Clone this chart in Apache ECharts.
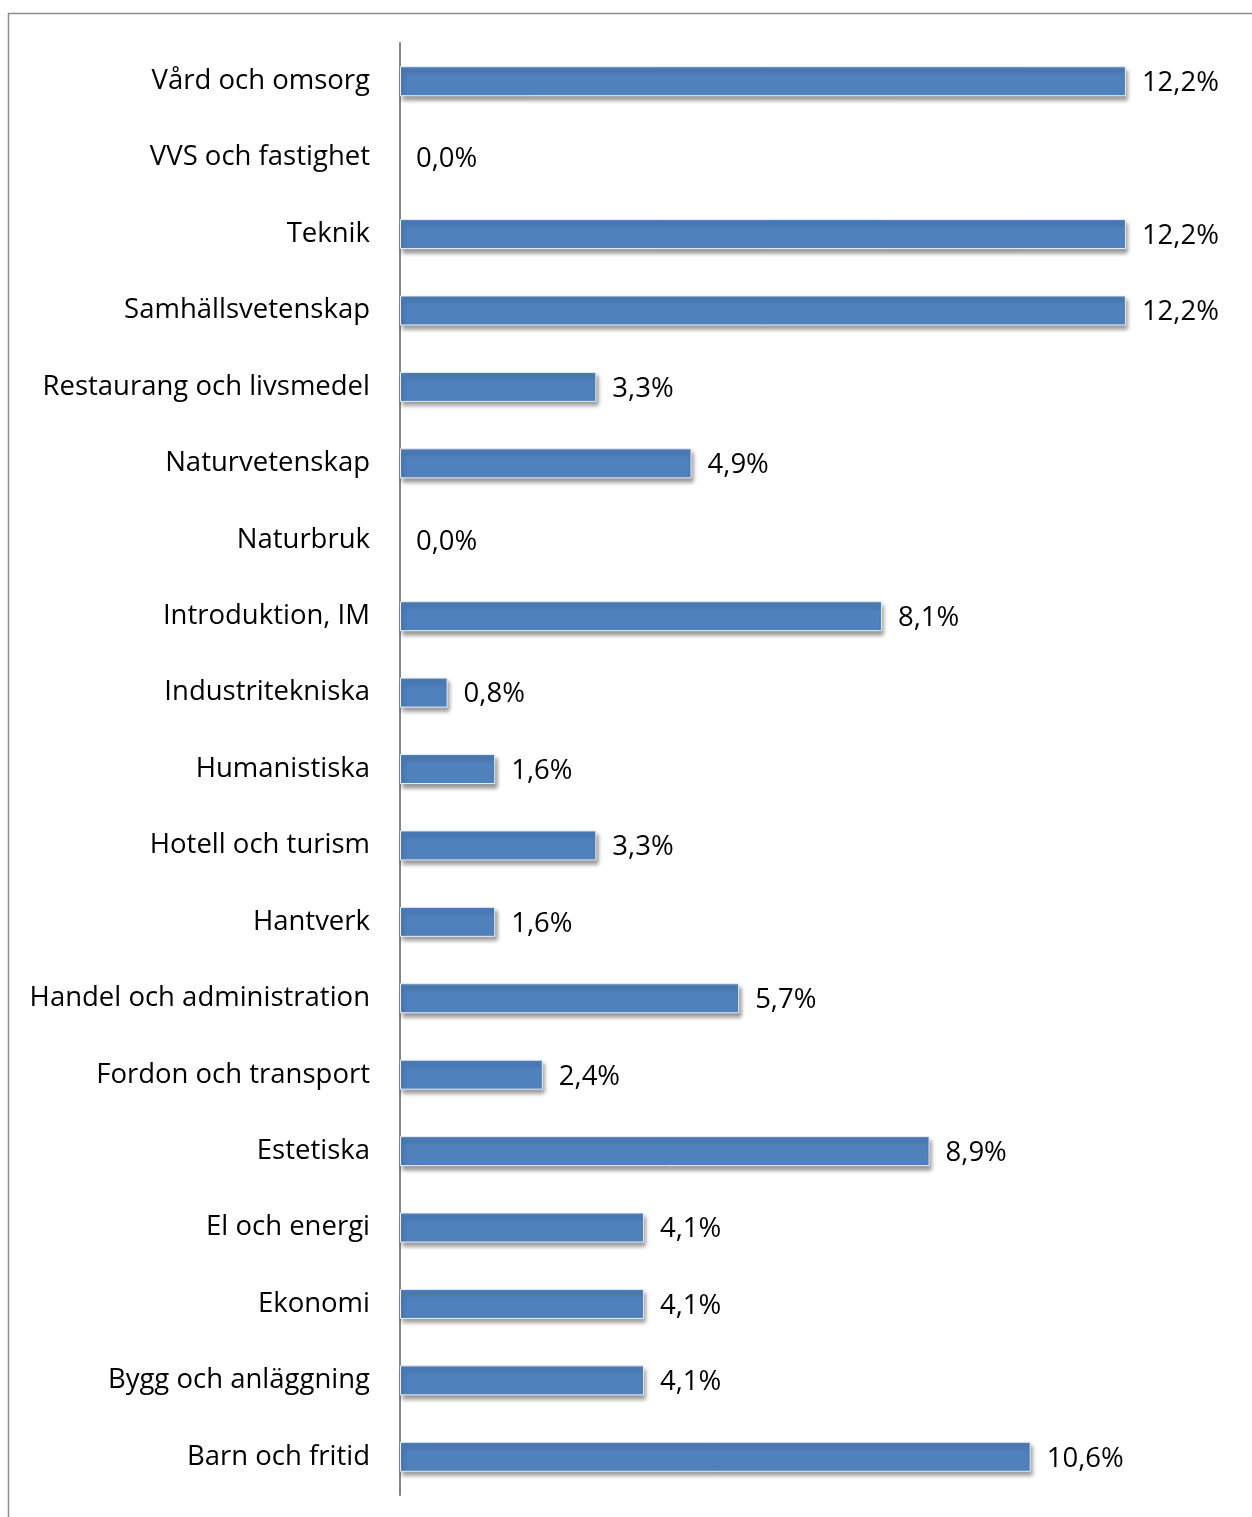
<!DOCTYPE html>
<html>
<head>
<meta charset="utf-8">
<script src="https://cdn.jsdelivr.net/npm/echarts@6/dist/echarts.min.js"></script>
<style>html,body{margin:0;padding:0;background:#fff;}#c{width:1252px;height:1517px;}</style>
</head>
<body>
<div id="c"></div>
<script>
const categories = ["Vård och omsorg","VVS och fastighet","Teknik","Samhällsvetenskap","Restaurang och livsmedel","Naturvetenskap","Naturbruk","Introduktion, IM","Industritekniska","Humanistiska","Hotell och turism","Hantverk","Handel och administration","Fordon och transport","Estetiska","El och energi","Ekonomi","Bygg och anläggning","Barn och fritid"];
const values = [12.2,0.0,12.2,12.2,3.3,4.9,0.0,8.1,0.8,1.6,3.3,1.6,5.7,2.4,8.9,4.1,4.1,4.1,10.6];

const FONT = 'Open Sans';
const chart = echarts.init(document.getElementById('c'));
chart.setOption({
  animation: false,
  graphic: [{type:'rect', shape:{x:8.5,y:13.5,width:1400,height:1600}, style:{fill:'none', stroke:'#8c8c8c', lineWidth:1.5}, silent:true}],
  grid: {left: 400, top: 43, width: 833, height: 1452, containLabel: false},
  xAxis: {type:'value', min:0, max:14, show:false},
  yAxis: {
    type:'category', data: categories, inverse: true,
    axisLine:{show:true, lineStyle:{color:'#868686', width:2}},
    axisTick:{show:false},
    axisLabel:{color:'#000', fontFamily:FONT, fontSize:27.5, margin:30}
  },
  series: [{
    type:'bar', barWidth: 30,
    data: values.map(v => v === 0 ? {value: v, itemStyle: {borderWidth: 0, shadowColor: 'rgba(0,0,0,0)'}} : v),
    itemStyle:{color:'#4F81BD', borderColor:'#e8eef7', borderWidth:1, shadowColor:'rgba(0,0,0,0.4)', shadowBlur:4, shadowOffsetX:2, shadowOffsetY:4},
    label:{show:true, position:'right', distance:16, color:'#000', fontFamily:FONT, fontSize:27.5, offset:[0,2],
      formatter: p => p.value.toFixed(1).replace('.', ',') + '%'}
  }]
});
</script>
</body>
</html>
